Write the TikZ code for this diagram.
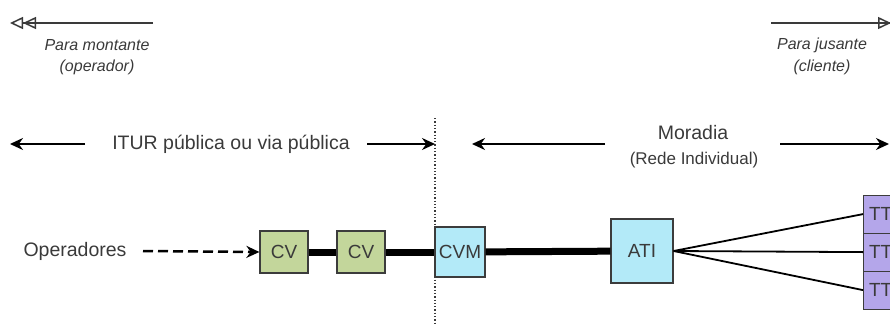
\documentclass[tikz,border=0pt]{standalone}
\usepackage{fontspec}
\setmainfont{Liberation Sans}
\usetikzlibrary{arrows.meta}
\definecolor{cvgreen}{HTML}{C3D69B}
\definecolor{cvmblue}{HTML}{B3EAF8}
\definecolor{ttpurple}{HTML}{B4A6EA}
\definecolor{txtgray}{HTML}{3A3A3A}
\definecolor{boxline}{HTML}{3C3C3C}

\begin{document}
\begin{tikzpicture}[x=1pt,y=-1pt]
			\tikzstyle{box} = [rectangle,draw=boxline,line width=1.2pt,inner sep=0pt,font=\fontsize{19}{21}\selectfont,text=txtgray]
			\tikzstyle{cvbox} = [box,fill=cvgreen,minimum width=48,minimum height=42]
			\tikzstyle{bluebox} = [box,fill=cvmblue]
			\tikzstyle{ttbox} = [box,fill=ttpurple,minimum width=34,minimum height=38,anchor=north west]
			\tikzstyle{label} = [text=txtgray,font=\fontsize{19.5}{22}\selectfont,inner sep=0pt]
			\tikzstyle{note} = [text=txtgray,font=\fontsize{16}{18}\selectfont\itshape,inner sep=0pt]
			\tikzstyle{edge} = [-,line width=1.8pt]
			\tikzstyle{edge2} = [-,line width=7pt]
			\tikzstyle{span} = [-{Stealth[length=13pt,width=12pt]},line width=2pt]
			\tikzstyle{way} = [-{Triangle[open,length=13pt,width=12pt]Triangle[open,length=13pt,width=12pt]},line width=1.5pt,draw=txtgray]
			\clip (0,0) rectangle (890,324);
			% direction of flow
			\coordinate (w0) at (153,23);
			\coordinate (w1) at (10,23);
			\coordinate (w2) at (771,23);
			\coordinate (w3) at (904,23);
			\draw[way] (w0)--(w1);
			\draw[way] (w2)--(w3);
			\node[note] (up1) at (97,45) {Para montante};
			\node[note] (up2) at (97,67) {(operador)};
			\node[note] (dn1) at (822,45) {Para jusante};
			\node[note] (dn2) at (822,67) {(cliente)};
			% zones
			\coordinate (b0) at (435,118);
			\coordinate (b1) at (435,324);
			\draw[dotted,line width=1.3pt,draw=txtgray] (b0)--(b1);
			\node[label] (itur) at (231,144) {ITUR pública ou via pública};
			\coordinate (i0) at (85,144);
			\coordinate (i1) at (10,144);
			\coordinate (i2) at (367,144);
			\coordinate (i3) at (435,144);
			\draw[span] (i0)--(i1);
			\draw[span] (i2)--(i3);
			\node[label] (mor) at (693,133) {Moradia};
			\node[label,font=\fontsize{17}{19}\selectfont] (rede) at (694,160) {(Rede Individual)};
			\coordinate (m0) at (605,144);
			\coordinate (m1) at (472,144);
			\coordinate (m2) at (780,144);
			\coordinate (m3) at (889,144);
			\draw[span] (m0)--(m1);
			\draw[span] (m2)--(m3);
			% network
			\node[label] (op) at (75,251) {Operadores};
			\node[cvbox] (cv1) at (284,252) {CV};
			\node[cvbox] (cv2) at (361,252) {CV};
			\node[bluebox,minimum width=50,minimum height=50] (cvm) at (460,252) {CVM};
			\node[bluebox,minimum width=62,minimum height=64] (ati) at (642,251) {ATI};
			\node[ttbox] (tt1) at (863,194.5) {TT};
			\node[ttbox] (tt2) at (863,232.5) {TT};
			\node[ttbox] (tt3) at (863,270.5) {TT};
			\coordinate (op1) at (143,251);
			\draw[-{Stealth[length=13pt,width=12pt]},dash pattern=on 10pt off 5pt,line width=2.5pt] (op1)--(cv1.west);
			\draw[edge2] (cv1)--(cv2);
			\draw[edge2] (cv2)--(cvm);
			\draw[edge2] (cvm)--(ati);
			\draw[edge] (ati.east)--(tt1.west);
			\draw[edge] (ati.east)--(tt2.west);
			\draw[edge] (ati.east)--(tt3.west);
			\end{tikzpicture}
\end{document}
